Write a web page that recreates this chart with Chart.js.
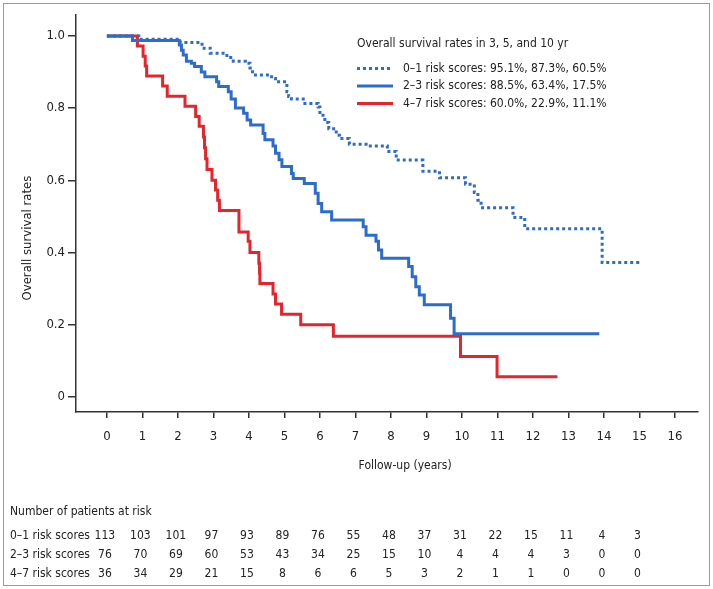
<!DOCTYPE html>
<html>
<head>
<meta charset="utf-8">
<script src="https://cdn.jsdelivr.net/npm/chart.js@4.4.1/dist/chart.umd.min.js"></script>
<style>
  html, body { margin: 0; padding: 0; background: #fff; }
  #wrap { position: relative; width: 713px; height: 589px; }
  #frame { position: absolute; left: 3px; top: 3px; width: 705px; height: 581px; border: 1px solid #9a9a9a; }
  #chart { position: absolute; left: 0; top: 0; }
</style>
</head>
<body>
<div id="wrap">
  <div id="frame"></div>
  <canvas id="chart" width="713" height="589"></canvas>
</div>
<script>
// ---- data ----
const groups = ["0\u20131", "2\u20133", "4\u20137"];
const rate3 = ["95.1%", "88.5%", "60.0%"];
const rate5 = ["87.3%", "63.4%", "22.9%"];
const rate10 = ["60.5%", "17.5%", "11.1%"];

// Kaplan-Meier steps: time of each drop (years) and survival after it
const time01 = [0, 0.9, 2.07, 2.68, 2.91, 3.38, 3.56, 3.9, 4.03, 4.1, 4.64, 4.75, 5.07, 5.12, 5.2, 5.53, 5.95, 6.0, 6.14, 6.25, 6.46, 6.55, 6.83, 7.3, 7.9, 8.15, 8.9, 9.37, 10.1, 10.35, 10.45, 10.54, 11.44, 11.77, 13.95, 15.05];
const surv01 = [1.0, 0.991, 0.982, 0.966, 0.952, 0.94, 0.93, 0.924, 0.911, 0.892, 0.882, 0.873, 0.845, 0.832, 0.825, 0.813, 0.803, 0.78, 0.76, 0.743, 0.725, 0.716, 0.70, 0.695, 0.68, 0.656, 0.625, 0.607, 0.589, 0.566, 0.545, 0.524, 0.497, 0.466, 0.372, 0.372];

const time23 = [0, 0.72, 2.04, 2.1, 2.15, 2.24, 2.38, 2.47, 2.66, 2.76, 3.09, 3.15, 3.42, 3.5, 3.62, 3.85, 3.95, 4.05, 4.4, 4.45, 4.68, 4.75, 4.85, 4.93, 5.2, 5.25, 5.56, 5.87, 5.95, 6.05, 6.33, 7.22, 7.3, 7.58, 7.65, 7.74, 8.5, 8.6, 8.7, 8.8, 8.94, 9.68, 9.78, 13.87];
const surv23 = [1.0, 0.987, 0.975, 0.96, 0.947, 0.93, 0.924, 0.915, 0.90, 0.887, 0.873, 0.86, 0.845, 0.825, 0.80, 0.786, 0.767, 0.753, 0.73, 0.712, 0.695, 0.675, 0.657, 0.638, 0.619, 0.605, 0.591, 0.564, 0.536, 0.513, 0.49, 0.471, 0.448, 0.431, 0.407, 0.384, 0.361, 0.333, 0.305, 0.282, 0.255, 0.218, 0.175, 0.175];

const time47 = [0, 0.86, 1.02, 1.08, 1.12, 1.57, 1.7, 2.2, 2.5, 2.6, 2.72, 2.75, 2.78, 2.82, 2.96, 3.06, 3.12, 3.17, 3.72, 3.98, 4.03, 4.28, 4.3, 4.31, 4.68, 4.75, 4.92, 5.46, 6.38, 9.96, 10.99, 12.69];
const surv47 = [1.0, 0.972, 0.944, 0.917, 0.889, 0.861, 0.833, 0.805, 0.777, 0.75, 0.72, 0.69, 0.66, 0.63, 0.60, 0.573, 0.545, 0.516, 0.457, 0.431, 0.40, 0.37, 0.343, 0.314, 0.285, 0.257, 0.229, 0.20, 0.168, 0.112, 0.056, 0.056];

// number at risk table
const riskYears = [0, 1, 2, 3, 4, 5, 6, 7, 8, 9, 10, 11, 12, 13, 14, 15];
const risk01 = [113, 103, 101, 97, 93, 89, 76, 55, 48, 37, 31, 22, 15, 11, 4, 3];
const risk23 = [76, 70, 69, 60, 53, 43, 34, 25, 15, 10, 4, 4, 4, 3, 0, 0];
const risk47 = [36, 34, 29, 21, 15, 8, 6, 6, 5, 3, 2, 1, 1, 0, 0, 0];

// ---- styling ----
const FONT = "'Liberation Sans Narrow', 'DejaVu Sans Condensed', 'Roboto', sans-serif";
const TEXT = "#222";
const AXIS = "#333";
const BLUE = "#2d6cc8";
const RED = "#e3262e";

Chart.defaults.font.family = FONT;
Chart.defaults.font.size = 13;
Chart.defaults.color = TEXT;

function pts(t, s) {
  return t.map((v, i) => ({ x: v, y: s[i] }));
}

const styles = [
  { color: BLUE, dash: [3, 3] },
  { color: BLUE, dash: [] },
  { color: RED, dash: [] }
];

const series = [pts(time01, surv01), pts(time23, surv23), pts(time47, surv47)];
const riskRows = [risk01, risk23, risk47];

// legend, axis titles and at-risk table drawn on top of the chart
const extras = {
  id: "extras",
  afterDraw(chart) {
    const ctx = chart.ctx;
    const x = chart.scales.x;
    const y = chart.scales.y;
    ctx.save();
    ctx.fillStyle = TEXT;
    ctx.textBaseline = "middle";

    // y axis title
    ctx.save();
    ctx.font = "13px " + FONT;
    ctx.translate(28, y.getPixelForValue(0.44));
    ctx.rotate(-Math.PI / 2);
    ctx.textAlign = "center";
    ctx.fillText("Overall survival rates", 0, 0);
    ctx.restore();

    ctx.font = "12px " + FONT;

    // x axis title
    ctx.textAlign = "center";
    ctx.fillText("Follow-up (years)", x.getPixelForValue(8.4), 466);

    // legend
    ctx.textAlign = "left";
    ctx.fillText("Overall survival rates in 3, 5, and 10 yr", 357, 44);
    groups.forEach((g, i) => {
      const ly = 68.5 + i * 17.5;
      ctx.save();
      ctx.strokeStyle = styles[i].color;
      ctx.lineWidth = 3;
      ctx.setLineDash(styles[i].dash);
      ctx.beginPath();
      ctx.moveTo(357, ly);
      ctx.lineTo(393, ly);
      ctx.stroke();
      ctx.restore();
      ctx.fillText(g + " risk scores: " + rate3[i] + ", " + rate5[i] + ", " + rate10[i], 403, ly);
    });

    // number at risk
    ctx.fillText("Number of patients at risk", 10, 512);
    riskRows.forEach((row, r) => {
      const ry = 536 + r * 19;
      ctx.textAlign = "left";
      ctx.fillText(groups[r] + " risk scores", 10, ry);
      ctx.textAlign = "center";
      row.forEach((n, k) => {
        ctx.fillText(String(n), x.getPixelForValue(riskYears[k]) - 2, ry);
      });
    });
    ctx.restore();
  }
};

new Chart(document.getElementById("chart"), {
  type: "line",
  data: {
    datasets: series.map((d, i) => ({
      label: groups[i] + " risk scores",
      data: d,
      stepped: true,
      borderColor: styles[i].color,
      borderDash: styles[i].dash,
      borderWidth: 3,
      pointRadius: 0,
      fill: false
    }))
  },
  options: {
    responsive: false,
    animation: false,
    events: [],
    layout: { padding: { left: 3, top: 15, right: 15, bottom: 115 } },
    plugins: { legend: { display: false }, tooltip: { enabled: false } },
    scales: {
      x: {
        type: "linear",
        min: -0.87,
        max: 16.65,
        afterBuildTicks: (s) => { s.ticks = s.ticks.filter(t => t.value >= 0 && t.value <= 16); },
        afterFit: (s) => { s.height = 62; },
        ticks: { stepSize: 1, includeBounds: false, padding: 11, color: TEXT, maxRotation: 0 },
        grid: { drawOnChartArea: false, drawTicks: true, tickLength: 6, color: AXIS, lineWidth: 1.5 },
        border: { display: true, color: AXIS, width: 1.5 }
      },
      y: {
        min: -0.042,
        max: 1.058,
        afterBuildTicks: (s) => { s.ticks = s.ticks.filter(t => t.value >= -0.001 && t.value <= 1.001); },
        afterFit: (s) => { s.width = 73; },
        ticks: {
          stepSize: 0.2,
          includeBounds: false,
          padding: 3,
          color: TEXT,
          callback: (v) => (Math.abs(v) < 1e-6 ? "0" : v.toFixed(1))
        },
        grid: { drawOnChartArea: false, drawTicks: true, tickLength: 8, color: AXIS, lineWidth: 1.5 },
        border: { display: true, color: AXIS, width: 1.5 }
      }
    }
  },
  plugins: [extras]
});
</script>
</body>
</html>
